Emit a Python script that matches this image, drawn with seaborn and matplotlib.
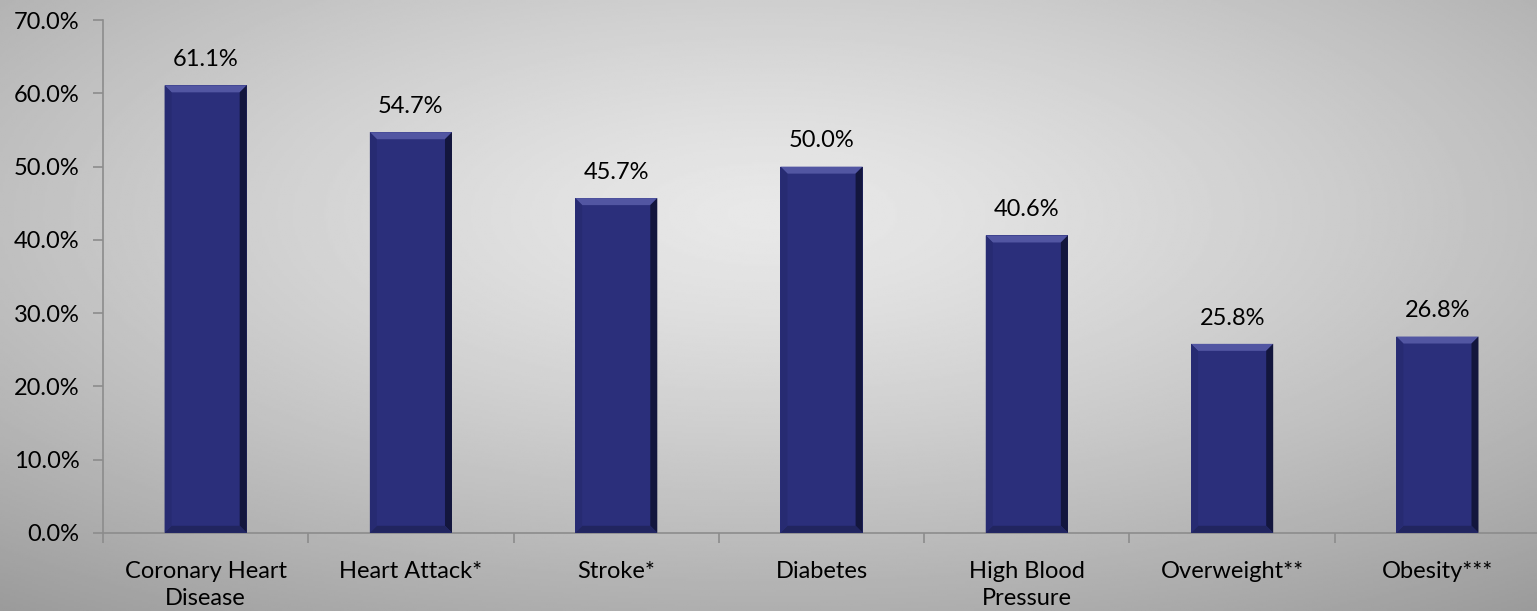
import numpy as np
import pandas as pd
from matplotlib import pyplot as plt
from matplotlib.patches import Polygon
from matplotlib.ticker import PercentFormatter
import seaborn as sns

categories = ["Coronary Heart\nDisease", "Heart Attack*", "Stroke*", "Diabetes",
              "High Blood\nPressure", "Overweight**", "Obesity***"]
values = [61.1, 54.7, 45.7, 50.0, 40.6, 25.8, 26.8]
y_ticks = [0, 10, 20, 30, 40, 50, 60, 70]

df = pd.DataFrame({"condition": categories, "pct": values})

sns.set_theme(style="white")
plt.rcParams["font.family"] = ["Lato", "DejaVu Sans"]

fig = plt.figure(figsize=(15.37, 6.11), dpi=100)

# radial grey background
bg = fig.add_axes([0, 0, 1, 1], zorder=-1)
yy, xx = np.mgrid[0:1:300j, 0:1:700j]
r = np.sqrt(((xx - 0.5) / 0.75) ** 2 + ((yy - 0.35) / 0.75) ** 2)
shade = np.clip(0.91 - 0.27 * r ** 1.3, 0, 1)
bg.imshow(shade, cmap="gray", vmin=0, vmax=1, extent=[0, 1, 1, 0], aspect="auto")
bg.axis("off")

ax = fig.add_axes([0.067, 0.128, 0.935, 0.839])
ax.patch.set_alpha(0)

bar_color = "#2b2f7b"
sns.barplot(data=df, x="condition", y="pct", color=bar_color, width=0.4,
            saturation=1, linewidth=0, ax=ax, zorder=3)

ax.set_ylim(0, 70)
ax.set_xlim(-0.5, len(categories) - 0.5)
ax.set_yticks(y_ticks)
ax.yaxis.set_major_formatter(PercentFormatter(decimals=1))
ax.set_xlabel("")
ax.set_ylabel("")

for s in ["top", "right"]:
    ax.spines[s].set_visible(False)
for s in ["left", "bottom"]:
    ax.spines[s].set_color("#8c8c8c")
    ax.spines[s].set_linewidth(1.2)

ax.tick_params(axis="y", which="major", left=True, length=7, width=1.2, color="#8c8c8c",
               labelsize=17, labelcolor="black", pad=10)
ax.tick_params(axis="x", which="major", length=0, labelsize=17, labelcolor="black", pad=20)
for lab in ax.get_xticklabels():
    lab.set_linespacing(1.35)
ax.set_xticks(np.arange(len(categories) + 1) - 0.5, minor=True)
ax.tick_params(axis="x", which="minor", bottom=True, length=7, width=1.2, color="#8c8c8c")

# bevel effect on each bar
fig.canvas.draw()
px_x = (ax.get_xlim()[1] - ax.get_xlim()[0]) / ax.bbox.width
px_y = (ax.get_ylim()[1] - ax.get_ylim()[0]) / ax.bbox.height
bx, by = 7 * px_x, 7 * px_y
for p in ax.patches:
    x0, w, h = p.get_x(), p.get_width(), p.get_height()
    x1 = x0 + w
    ax.add_patch(Polygon([(x0, h), (x1, h), (x1 - bx, h - by), (x0 + bx, h - by)],
                         closed=True, color="#5256a2", lw=0, zorder=4))
    ax.add_patch(Polygon([(x1, h), (x1, 0), (x1 - bx, by), (x1 - bx, h - by)],
                         closed=True, color="#13163d", lw=0, zorder=4))
    ax.add_patch(Polygon([(x0, 0), (x1, 0), (x1 - bx, by), (x0 + bx, by)],
                         closed=True, color="#21255f", lw=0, zorder=4))
    ax.add_patch(Polygon([(x0, 0), (x0, h), (x0 + bx, h - by), (x0 + bx, by)],
                         closed=True, color="#272b72", lw=0, zorder=4))
    ax.annotate(f"{h:.1f}%", (x0 + w / 2, h), xytext=(0, 11), textcoords="offset points",
                ha="center", va="bottom", fontsize=17, color="black")

fig.savefig("out.png", dpi=100)
